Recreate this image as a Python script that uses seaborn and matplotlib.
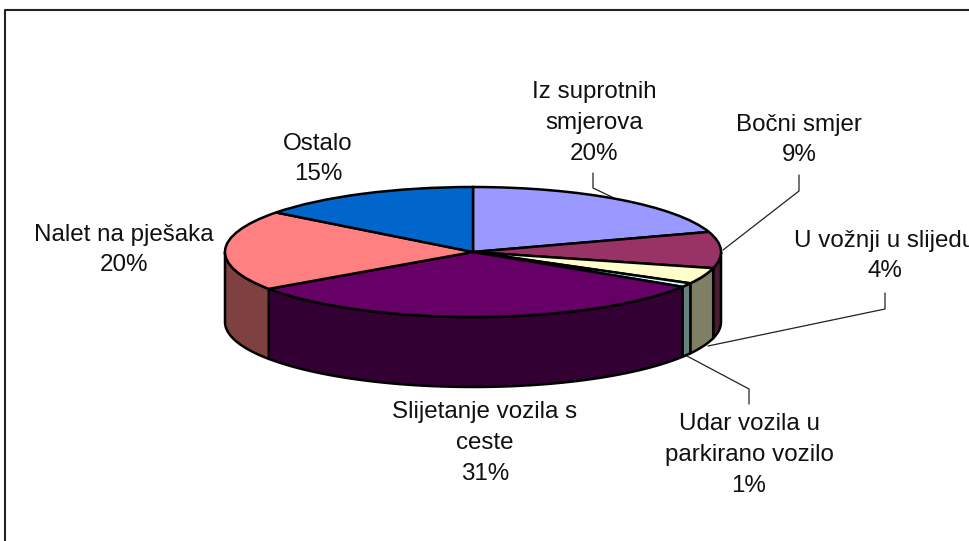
import numpy as np
import matplotlib
matplotlib.use('Agg')
import matplotlib.pyplot as plt
from matplotlib.transforms import Affine2D
import seaborn as sns

names = ['Iz suprotnih\nsmjerova', 'Bočni smjer', 'U vožnji u slijedu',
         'Udar vozila u\nparkirano vozilo', 'Slijetanje vozila s\nceste',
         'Nalet na pješaka', 'Ostalo']
values = [20, 9, 4, 1, 31.4, 20, 14.6]
top_colors = ['#9999FF', '#993366', '#FFFFCC', '#CCFFFF', '#660066', '#FF8080', '#0066CC']
side_colors = ['#4C4C7F', '#4C1933', '#7F7F66', '#667F7F', '#330033', '#7F4040', '#003366']

sns.set_theme(style='white')
plt.rcParams['font.family'] = ['Liberation Sans', 'DejaVu Sans']

W, H = 970, 541
fig = plt.figure(figsize=(W / 100, H / 100), dpi=100)
ax = fig.add_axes([0, 0, 1, 1])

# pie centre and radii in pixels, the squashed look comes from the axis limits
cx, cy, rx, ry, depth = 473, 252, 248, 65, 70

ax.pie(values, colors=top_colors, startangle=90, counterclock=False, radius=1,
       wedgeprops={'edgecolor': 'black', 'linewidth': 1.8, 'zorder': 3})
ax.set_aspect('auto')
ax.set_xlim(-cx / rx, (W - cx) / rx)
ax.set_ylim((cy - H) / ry, cy / ry)

# side wall, only the front half (90..270 deg clockwise from top) is visible
h = depth / ry
edges = np.cumsum([0] + values) / sum(values) * 360
for i in range(len(values)):
    a, b = max(edges[i], 90), min(edges[i + 1], 270)
    if a >= b:
        continue
    t = np.radians(np.linspace(a, b, 60))
    xs = np.sin(t)
    ys = np.cos(t)
    ax.fill(np.r_[xs, xs[::-1]], np.r_[ys, ys[::-1] - h], facecolor=side_colors[i],
            edgecolor='black', linewidth=1.8, zorder=2, joinstyle='round')

# pixel coordinates for labels, leader lines and the frame
px = Affine2D().scale(1, -1).translate(0, H)

label_pos = [(594, 123), (799, 140), (885, 256), (749, 455), (485, 443), (124, 250), (318, 159)]
for name, v, (x, y) in zip(names, values, label_pos):
    ax.text(x, y, f'{name}\n{v:.0f}%', transform=px, ha='center', va='center', ma='center',
            fontsize=17.4, color='#111111', linespacing=1.52, zorder=5)

leaders = [
    [(593, 173), (593, 188), (614, 198)],
    [(799, 175), (799, 191), (723, 250)],
    [(885, 293), (885, 309), (708, 346)],
    [(749, 404), (749, 389), (687, 356)],
]
for pts in leaders:
    xs, ys = zip(*pts)
    ax.plot(xs, ys, transform=px, color='#222222', linewidth=0.9, zorder=1)

ax.plot([5, 5, W + 5], [H + 5, 10, 10], transform=px, color='#222222', linewidth=1.5, zorder=1)

fig.savefig('out.png', dpi=100)
